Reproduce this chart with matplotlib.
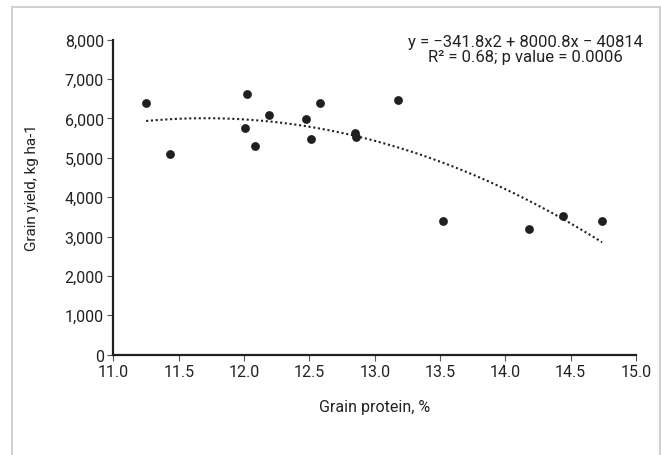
import numpy as np
import matplotlib
matplotlib.use('Agg')
import matplotlib.pyplot as plt
from matplotlib.patches import Rectangle

# data
protein = [11.25, 11.43, 12.02, 12.01, 12.08, 12.19, 12.47, 12.51, 12.58,
           12.85, 12.86, 13.18, 13.52, 14.18, 14.44, 14.74]
grain_yield = [6390, 5100, 6620, 5760, 5300, 6080, 5980, 5470, 6400,
               5620, 5540, 6460, 3390, 3200, 3520, 3400]
# quadratic trend as printed on the chart
trend_coef = [-341.8, 8000.8, -40814]
y_ticks = [0, 1000, 2000, 3000, 4000, 5000, 6000, 7000, 8000]
x_ticks = [11.0, 11.5, 12.0, 12.5, 13.0, 13.5, 14.0, 14.5, 15.0]

plt.rcParams['font.family'] = ['Roboto', 'DejaVu Sans']
ink = '#231f20'

fig = plt.figure(figsize=(6.61, 4.56), dpi=100)
ax = fig.add_axes([0.1717, 0.2200, 0.7905, 0.6907])

# light grey frame round the figure (no bottom edge visible)
fig.patches.append(Rectangle((12 / 661, -0.05), 648 / 661, 1.05 - 8 / 456,
                             transform=fig.transFigure, fill=False,
                             edgecolor='#c8c8c8', linewidth=1.2))

ax.scatter(protein, grain_yield, s=40, color=ink, zorder=3, linewidths=0)

xs = np.linspace(min(protein), max(protein), 200)
ax.plot(xs, np.polyval(trend_coef, xs), color=ink, linestyle=(0, (1, 1.3)),
        linewidth=1.5, zorder=2)

ax.set_xlim(11, 15)
ax.set_ylim(0, 8000)
ax.set_xticks(x_ticks)
ax.set_xticklabels(['%.1f' % v for v in x_ticks])
ax.set_yticks(y_ticks)
ax.set_yticklabels(['{:,}'.format(v) for v in y_ticks])

for side in ['top', 'right']:
    ax.spines[side].set_visible(False)
for side in ['left', 'bottom']:
    ax.spines[side].set_linewidth(1.6)
    ax.spines[side].set_color(ink)

ax.tick_params(direction='out', length=4, width=0.8, color='#555555',
               labelsize=11.5, labelcolor='#222222', pad=3)

ax.set_xlabel('Grain protein, %', fontsize=11.5, color='#222222', labelpad=14)
ax.set_ylabel('Grain yield, kg ha-1', fontsize=11, color='#222222', labelpad=10)
ax.yaxis.set_label_coords(-0.142, 0.535)

ax.text(0.789, 0.970, 'y = \u2212341.8x2 + 8000.8x \u2212 40814\nR\u00b2 = 0.68; p value = 0.0006',
        transform=ax.transAxes, ha='center', va='center', fontsize=12,
        color='#222222', linespacing=0.95)

fig.savefig('out.png', dpi=100)
